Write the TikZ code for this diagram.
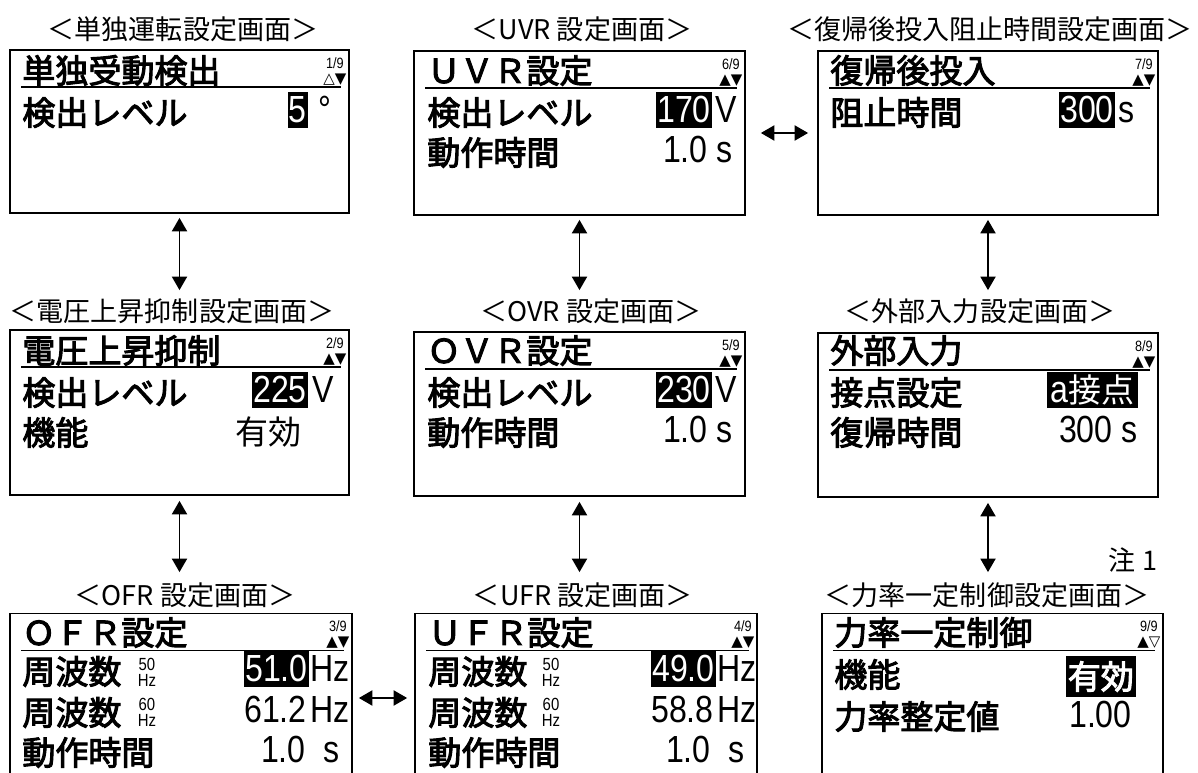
\documentclass[tikz,border=0pt]{standalone}
\usepackage{fontspec}
\setmainfont{Noto Sans CJK JP}
\newfontfamily\lcdface[FakeBold=3]{Noto Sans CJK JP}
\newfontfamily\numfont[FakeStretch=0.85]{Liberation Sans}
\newfontfamily\symfont{DejaVu Sans}
\usetikzlibrary{positioning,arrows.meta,calc}
\newcommand\lcdfont{\lcdface\fontsize{18.8pt}{20pt}\selectfont}
\newcommand\numsize{\fontsize{21.5pt}{22pt}\selectfont\numfont}

\begin{document}
\begin{tikzpicture}[x=0.02cm, y=-0.02cm, every node/.style={inner sep=0pt},
  screen/.style={draw, line width=1pt},
  caption/.style={font=\fontsize{15.4pt}{16pt}\selectfont},
  lbl/.style={anchor=base west, font=\lcdfont},
  val/.style={anchor=base east, font=\numsize},
  unit/.style={anchor=base west, font=\numsize},
  hl/.style={anchor=base east, font=\numsize, fill=black, text=white, inner xsep=0.5pt, text height=0.62cm, text depth=0.1cm},
  pg/.style={anchor=north, font=\fontsize{8.5pt}{8.5pt}\selectfont\numfont, align=center},
  sub/.style={font=\fontsize{10pt}{10pt}\selectfont\numfont, text height=0.72em, text depth=0pt},
  link/.style={{Triangle[width=0.3cm,length=0.27cm]}-{Triangle[width=0.3cm,length=0.27cm]}, line width=1.1pt}]
  \useasboundingbox (0,0) rectangle (1198,773);
  \clip (0,0) rectangle (1198,773);

  % screens
  \node[screen, minimum width=6.78cm, minimum height=3.26cm] (s1) at (179.5,131.5) {};
  \node[screen, minimum width=6.62cm, minimum height=3.28cm] (s6) at (579.5,133) {};
  \node[screen, minimum width=6.8cm, minimum height=3.28cm] (s7) at (988,133) {};
  \node[screen, minimum width=6.78cm, minimum height=3.3cm] (s2) at (179.5,412.5) {};
  \node[screen, minimum width=6.62cm, minimum height=3.28cm] (s5) at (579.5,414) {};
  \node[screen, minimum width=6.8cm, minimum height=3.28cm] (s8) at (988,415) {};
  \node[screen, minimum width=6.84cm, minimum height=3.38cm] (s3) at (181,698) {};
  \node[screen, minimum width=6.84cm, minimum height=3.38cm] (s4) at (586,698) {};
  \node[screen, minimum width=6.82cm, minimum height=3.38cm] (s9) at (992.5,698) {};

  % captions
  \node[caption] (t1) at (183,29) {＜単独運転設定画面＞};
  \node[caption] (t6) at (582,29) {＜UVR 設定画面＞};
  \node[caption] (t7) at (990,29) {＜復帰後投入阻止時間設定画面＞};
  \node[caption] (t2) at (172,311) {＜電圧上昇抑制設定画面＞};
  \node[caption] (t5) at (591,311) {＜OVR 設定画面＞};
  \node[caption] (t8) at (980,311) {＜外部入力設定画面＞};
  \node[caption] (t3) at (185,595) {＜OFR 設定画面＞};
  \node[caption] (t4) at (583,595) {＜UFR 設定画面＞};
  \node[caption] (t9) at (987,595) {＜力率一定制御設定画面＞};
  \node[caption] (n1) at (1133,560) {注 1};

  % headers, underline and page marks
  \node[lbl] (h1) at (22,83) {単独受動検出};
  \node[lbl] (h6) at (427,83) {ＵＶＲ設定};
  \node[lbl] (h7) at (830,83) {復帰後投入};
  \node[lbl] (h2) at (22,363) {電圧上昇抑制};
  \node[lbl] (h5) at (427,363) {ＯＶＲ設定};
  \node[lbl] (h8) at (830,363) {外部入力};
  \node[lbl] (h3) at (22,645) {ＯＦＲ設定};
  \node[lbl] (h4) at (428,645) {ＵＦＲ設定};
  \node[lbl] (h9) at (834,645) {力率一定制御};
  \foreach \s/\tri in {1/△▼,2/▲▼,3/▲▼,4/▲▼,5/▲▼,6/▲▼,7/▲▼,8/▲▼,9/▲▽} {
    \draw[line width=0.9pt] ($(s\s.north west)+(12,38)$) -- ($(s\s.north east)+(-9,38)$);
    \node[pg] at ($(s\s.north east)+(-15,8)$) {\s/9\\{\symfont\tri}};
  }

  % single operation
  \node[lbl] (r11) at (22,125) {検出レベル};
  \node[hl] (v11) at (308,123) {5};
  \node[unit] at ([xshift=0.2cm]v11.base east) {°};

  % UVR
  \node[lbl] (r61) at (427,125) {検出レベル};
  \node[hl] (v61) at (712,123) {170};
  \node[unit] at ([xshift=0.06cm]v61.base east) {V};
  \node[lbl] (r62) at (427,165) {動作時間};
  \node[val] (v62) at (733,163) {1.0 s};

  % reclose block
  \node[lbl] (r71) at (830,125) {阻止時間};
  \node[hl] (v71) at (1115,123) {300};
  \node[unit] at ([xshift=0.06cm]v71.base east) {s};

  % voltage rise
  \node[lbl] (r21) at (22,405) {検出レベル};
  \node[hl] (v21) at (308,403) {225};
  \node[unit] at ([xshift=0.08cm]v21.base east) {V};
  \node[lbl] (r22) at (22,445) {機能};
  \node[val, font=\rmfamily\fontsize{18.8pt}{20pt}\selectfont] (v22) at (302,445) {有効};

  % OVR
  \node[lbl] (r51) at (427,405) {検出レベル};
  \node[hl] (v51) at (712,403) {230};
  \node[unit] at ([xshift=0.06cm]v51.base east) {V};
  \node[lbl] (r52) at (427,445) {動作時間};
  \node[val] (v52) at (733,443) {1.0 s};

  % external input
  \node[lbl] (r81) at (830,405) {接点設定};
  \node[hl, inner xsep=2pt] (v81) at (1138,403) {a{\rmfamily\fontsize{18.8pt}{20pt}\selectfont 接点}};
  \node[lbl] (r82) at (830,445) {復帰時間};
  \node[val] (v82) at (1138,443) {300 s};

  % OFR
  \node[lbl] (r31) at (22,684) {周波数};
  \node[sub, anchor=south] (f31) at (147,671) {50};
  \node[sub, anchor=north] at (147,673) {Hz};
  \node[hl] (v31) at (309,682) {51.0};
  \node[unit] at ([xshift=0.02cm]v31.base east) {Hz};
  \node[lbl] (r32) at (22,725) {周波数};
  \node[sub, anchor=south] (f32) at (147,711) {60};
  \node[sub, anchor=north] at (147,713) {Hz};
  \node[val] (v32) at (307,723) {61.2};
  \node[unit] at ([xshift=0.06cm]v32.base east) {Hz};
  \node[lbl] (r33) at (22,765) {動作時間};
  \node[val] (v33) at (340,763) {1.0\ \ s};

  % UFR
  \node[lbl] (r41) at (428,684) {周波数};
  \node[sub, anchor=south] (f41) at (551,671) {50};
  \node[sub, anchor=north] at (551,673) {Hz};
  \node[hl] (v41) at (716,682) {49.0};
  \node[unit] at ([xshift=0.02cm]v41.base east) {Hz};
  \node[lbl] (r42) at (428,725) {周波数};
  \node[sub, anchor=south] (f42) at (551,711) {60};
  \node[sub, anchor=north] at (551,713) {Hz};
  \node[val] (v42) at (714,723) {58.8};
  \node[unit] at ([xshift=0.06cm]v42.base east) {Hz};
  \node[lbl] (r43) at (428,765) {動作時間};
  \node[val] (v43) at (745,763) {1.0\ \ s};

  % power factor
  \node[lbl] (r91) at (834,687) {機能};
  \node[hl, font=\lcdfont, inner xsep=1pt, text height=0.66cm, text depth=0.16cm] (v91) at (1136,689) {有効};
  \node[lbl] (r92) at (834,729) {力率整定値};
  \node[val] (v92) at (1132,727) {1.00};

  % links
  \draw[link, shorten <=0.08cm, shorten >=0.16cm] (s1.south) -- (s1.south |- t2.north);
  \draw[link, shorten <=0.08cm, shorten >=0.16cm] (s6.south) -- (s6.south |- t5.north);
  \draw[link, shorten <=0.08cm, shorten >=0.16cm] (s7.south) -- (s7.south |- t8.north);
  \draw[link, shorten <=0.1cm, shorten >=0.2cm] (s2.south) -- (s2.south |- t3.north);
  \draw[link, shorten <=0.1cm, shorten >=0.2cm] (s5.south) -- (s5.south |- t4.north);
  \draw[link, shorten <=0.1cm, shorten >=0.2cm] (s8.south) -- (s8.south |- t9.north);
  \draw[link, shorten <=0.3cm, shorten >=0.18cm] (s6.east) -- (s6.east -| s7.west);
  \draw[link, shorten <=0.12cm, shorten >=0.14cm] (s3.east) -- (s3.east -| s4.west);
\end{tikzpicture}
\end{document}
